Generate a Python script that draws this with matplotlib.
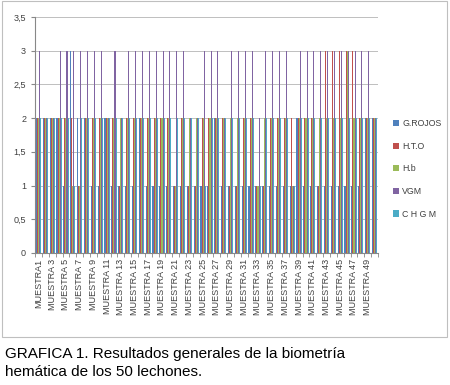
import numpy as np
import matplotlib
matplotlib.use("Agg")
import matplotlib.pyplot as plt
from matplotlib.patches import Rectangle
from matplotlib.ticker import FuncFormatter

plt.rcParams['font.family'] = ['Liberation Sans', 'DejaVu Sans']

# Data (50 samples, 5 series)
muestras = ["MUESTRA%s" % (str(i) if i == 1 else " " + str(i)) for i in range(1, 51)]
series = ["G.ROJOS", "H.T.O", "H.b", "VGM", "C H G M"]
colors = ["#4F81BD", "#C0504D", "#9BBB59", "#8064A2", "#4BACC6"]

g_rojos = [2, 2, 2, 2, 1, 3, 2, 2, 1, 1,
           2, 1, 1, 1, 1, 2, 1, 1, 1, 1,
           1, 1, 1, 1, 1, 1, 2, 1, 1, 1,
           1, 1, 1, 1, 1, 1, 1, 1, 2, 1,
           1, 1, 1, 1, 1, 1, 1, 1, 2, 2]
hto = [2, 2, 2, 2, 2, 2, 1, 2, 2, 2,
       2, 2, 1, 2, 2, 2, 2, 2, 2, 2,
       1, 2, 1, 1, 2, 2, 2, 2, 1, 1,
       2, 2, 1, 1, 2, 2, 2, 2, 2, 2,
       2, 1, 3, 3, 3, 3, 3, 2, 2, 2]
hb = [2, 2, 2, 2, 2, 1, 1, 2, 2, 2,
      2, 2, 2, 2, 2, 2, 2, 2, 2, 2,
      1, 2, 2, 2, 2, 2, 2, 2, 2, 2,
      2, 2, 1, 2, 2, 2, 2, 1, 2, 2,
      2, 2, 2, 2, 2, 3, 2, 2, 2, 2]
vgm = [3, 2, 2, 3, 3, 3, 3, 3, 3, 3,
       2, 3, 2, 3, 3, 3, 3, 3, 3, 3,
       3, 3, 2, 2, 3, 3, 3, 2, 3, 3,
       3, 3, 2, 3, 3, 3, 3, 1, 3, 3,
       3, 3, 3, 3, 3, 3, 3, 3, 3, 2]
chgm = [2, 2, 2, 2, 2, 1, 2, 2, 2, 2,
        2, 2, 2, 2, 2, 2, 2, 2, 2, 2,
        2, 2, 2, 2, 1, 2, 2, 2, 2, 2,
        2, 2, 1, 2, 2, 2, 2, 1, 2, 2,
        2, 2, 2, 2, 2, 2, 2, 2, 2, 2]
values = [g_rojos, hto, hb, vgm, chgm]

fig = plt.figure(figsize=(4.5, 3.85), dpi=100)

# chart frame
fig.patches.append(Rectangle((0.004, 0.125), 0.99, 0.872, transform=fig.transFigure,
                             fill=False, edgecolor="#BFBFBF", linewidth=0.8))

ax = fig.add_axes([0.078, 0.343, 0.762, 0.613])
x = np.arange(len(muestras))
bw = 0.77 / 5
for k, (name, vals) in enumerate(zip(series, values)):
    ax.bar(x - 0.385 + bw * (k + 0.5), vals, width=bw, color=colors[k], label=name,
           linewidth=0)

ax.set_xlim(-0.5, len(muestras) - 0.5)
ax.set_ylim(0, 3.5)
ax.set_yticks(np.arange(0, 3.51, 0.5))
ax.yaxis.set_major_formatter(FuncFormatter(lambda v, p: ("%g" % v).replace(".", ",")))
ax.grid(axis="y", color="#BFBFBF", linewidth=0.7)
ax.set_axisbelow(True)
ax.set_xticks(x[::2])
ax.set_xticklabels(muestras[::2], rotation=90, fontsize=6.5, color="#404040")
ax.set_xticks(np.arange(-0.5, len(muestras), 1), minor=True)
ax.tick_params(axis="x", which="major", length=0, pad=4)
ax.tick_params(axis="x", which="minor", length=3, color="#888888")
ax.tick_params(axis="y", labelsize=6.5, labelcolor="#404040", length=3, color="#888888")
for s in ["top", "right"]:
    ax.spines[s].set_visible(False)
for s in ["left", "bottom"]:
    ax.spines[s].set_color("#888888")
    ax.spines[s].set_linewidth(0.8)

ax.legend(loc="center left", bbox_to_anchor=(1.02, 0.356), frameon=False, fontsize=6.3,
          handlelength=0.7, handleheight=0.7, labelspacing=1.55, handletextpad=0.4,
          labelcolor="#404040")

fig.text(0.012, 0.058, "GRAFICA 1. Resultados generales de la biometría\nhemática de los 50 lechones.",
         fontsize=11, ha="left", va="center", linespacing=1.35)

fig.savefig("out.png", dpi=100)
